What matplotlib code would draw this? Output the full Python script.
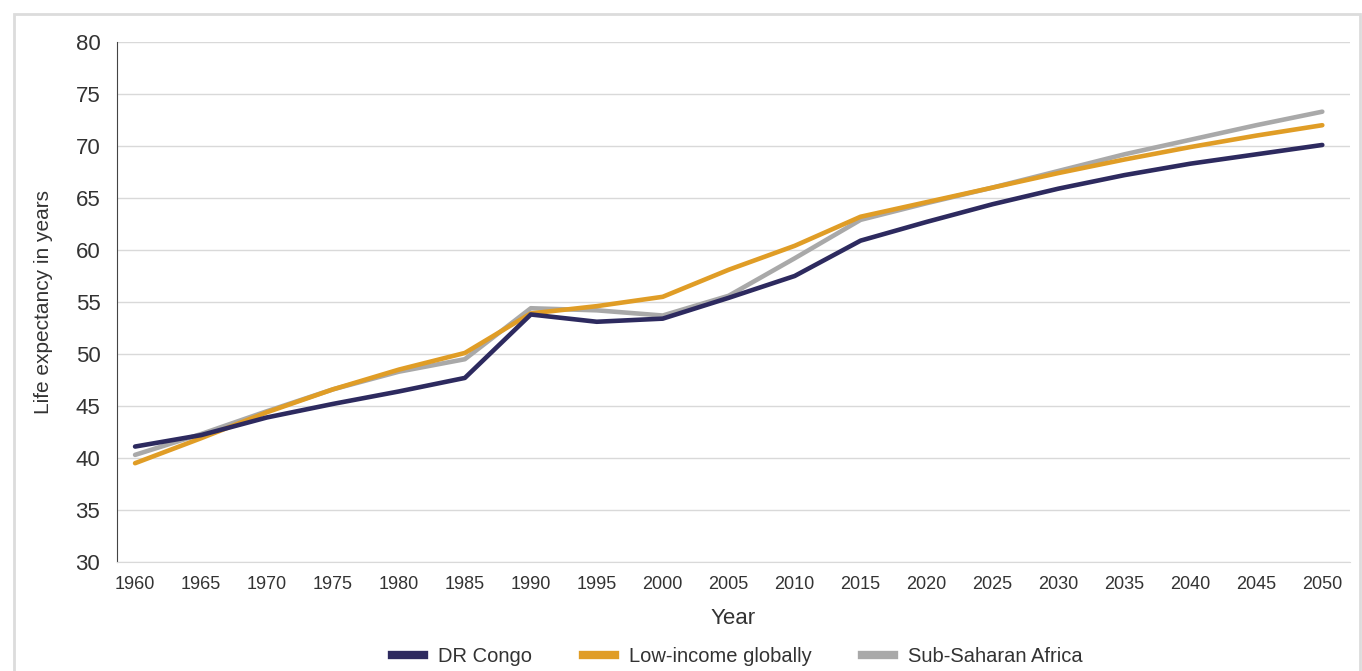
import numpy as np
import matplotlib.pyplot as plt
from matplotlib.lines import Line2D
from matplotlib.patches import Rectangle

plt.rcParams['font.family'] = ['Liberation Sans', 'DejaVu Sans']

years = list(range(1960, 2051, 5))
dr_congo = [41.1, 42.2, 43.9, 45.2, 46.4, 47.7, 53.8, 53.1, 53.4, 55.4,
            57.5, 60.9, 62.7, 64.4, 65.9, 67.2, 68.3, 69.2, 70.1]
low_income = [39.5, 41.9, 44.4, 46.6, 48.5, 50.1, 53.9, 54.6, 55.5, 58.1,
              60.4, 63.2, 64.6, 66.0, 67.4, 68.7, 69.9, 71.0, 72.0]
sub_saharan = [40.3, 42.3, 44.5, 46.6, 48.3, 49.5, 54.4, 54.2, 53.7, 55.6,
               59.2, 62.9, 64.5, 66.0, 67.6, 69.2, 70.6, 72.0, 73.3]

series = [
    ("DR Congo", dr_congo, "#2d2a5f"),
    ("Low-income globally", low_income, "#e09d26"),
    ("Sub-Saharan Africa", sub_saharan, "#a9a9a9"),
]
text_col = "#333333"

fig = plt.figure(figsize=(13.62, 6.71), dpi=100)
# light frame around the figure
fig.patches.append(Rectangle((14 / 1362, -0.05), 1346 / 1362, 1 - 14 / 671 + 0.05,
                             transform=fig.transFigure, fill=False,
                             edgecolor="#dcdcdc", linewidth=2))

ax = fig.add_axes([117 / 1362, 1 - 562 / 671, (1350 - 117) / 1362, (562 - 42) / 671])

# gray behind orange, navy on top
for name, vals, col in [series[2], series[1], series[0]]:
    ax.plot(years, vals, color=col, linewidth=3.3, solid_capstyle="round",
            solid_joinstyle="round", label=name)

ax.set_xlim(1958.63, 2052.1)
ax.set_ylim(30, 80)
ax.set_xticks(years)
ax.set_yticks(range(30, 81, 5))
ax.grid(axis="y", color="#d9d9d9", linewidth=1)
ax.set_axisbelow(True)
for s in ["top", "right"]:
    ax.spines[s].set_visible(False)
ax.spines["bottom"].set_color("#d9d9d9")
ax.spines["left"].set_color("#444444")
ax.tick_params(axis="x", length=0, pad=10, labelsize=13, labelcolor=text_col)
ax.tick_params(axis="y", length=0, pad=12, labelsize=16, labelcolor=text_col)

ax.set_xlabel("Year", fontsize=16, color=text_col, labelpad=11)
ax.set_ylabel("Life expectancy in years", fontsize=15, color=text_col, labelpad=16)

handles = [Line2D([0], [0], color=c, linewidth=6) for _, _, c in series]
labels = [n for n, _, _ in series]
fig.legend(handles, labels, loc="center", bbox_to_anchor=(0.5415, 0.022),
           ncol=3, frameon=False, fontsize=14.5, handlelength=1.6,
           handletextpad=0.7, columnspacing=2.5, labelcolor=text_col)

fig.savefig("out.png", dpi=100)
